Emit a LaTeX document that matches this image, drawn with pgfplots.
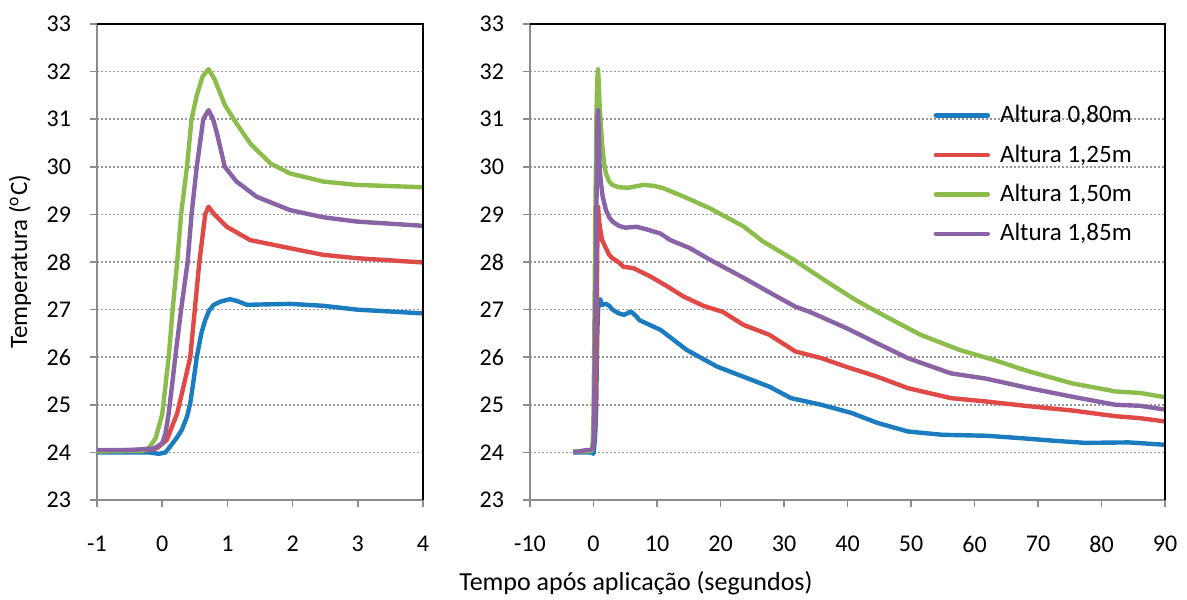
\documentclass[border=0pt]{standalone}
\usepackage{fontspec}
\setmainfont{Carlito}
\usepackage{pgfplots}
\usepackage{pgfplotstable}
\pgfplotsset{compat=1.18}

\definecolor{cblue}{HTML}{1B7DC0}
\definecolor{cred}{HTML}{DF4A47}
\definecolor{cgreen}{HTML}{8CBD4C}
\definecolor{cpurple}{HTML}{8A62A6}
\definecolor{axgray}{HTML}{8C8C8C}

% tempo (s), temperatura (C)
\pgfplotstableread{
t T
-3.2 24.00
-1 24.00
-0.2 24.00
-0.05 23.97
0.05 24.00
0.12 24.12
0.22 24.30
0.30 24.47
0.38 24.75
0.43 25.03
0.48 25.50
0.53 26.00
0.60 26.50
0.66 26.78
0.72 26.98
0.79 27.10
0.90 27.17
1.04 27.22
1.15 27.18
1.30 27.10
1.60 27.11
1.96 27.12
2.47 27.08
2.98 27.00
4.0 26.92
4.8 26.89
5.9 26.96
6.8 26.85
7.2 26.78
10.6 26.57
14.7 26.15
19.5 25.80
23.6 25.59
27.7 25.38
31.1 25.14
35.9 25.00
40.6 24.83
44.7 24.62
49.5 24.44
54.9 24.37
61.8 24.35
67.2 24.30
72.0 24.25
77.4 24.20
84.3 24.21
90.0 24.16
}\tblue

\pgfplotstableread{
t T
-3.2 24.02
-1 24.03
-0.5 24.05
-0.2 24.05
-0.08 24.09
0.07 24.26
0.23 24.82
0.35 25.52
0.43 26.00
0.50 27.00
0.57 28.00
0.66 29.00
0.71 29.16
0.80 29.00
0.99 28.74
1.35 28.46
1.96 28.29
2.47 28.15
2.98 28.08
4.0 27.99
4.7 27.90
6.3 27.87
8.9 27.70
11.6 27.49
14.1 27.28
17.3 27.08
20.4 26.95
23.6 26.68
27.7 26.47
31.8 26.12
35.9 25.98
40.0 25.79
44.7 25.59
49.5 25.35
56.3 25.14
61.8 25.07
68.6 24.97
75.4 24.88
82.2 24.76
86.0 24.72
90.0 24.65
}\tred

\pgfplotstableread{
t T
-3.2 24.02
-1 24.02
-0.5 24.03
-0.3 24.03
-0.2 24.10
-0.1 24.30
0.0 24.80
0.05 25.40
0.10 26.00
0.16 27.00
0.23 28.00
0.29 29.00
0.38 30.00
0.45 31.00
0.53 31.50
0.62 31.90
0.71 32.05
0.80 31.85
0.96 31.30
1.14 30.91
1.35 30.49
1.66 30.07
1.96 29.86
2.47 29.69
2.98 29.62
4.0 29.57
5.5 29.56
7.85 29.62
9.5 29.60
11.0 29.55
14.1 29.38
18.3 29.13
23.6 28.75
26.7 28.43
31.5 28.05
36.7 27.59
41.3 27.20
46.1 26.85
51.5 26.47
57.7 26.15
63.1 25.94
68.6 25.70
75.4 25.45
82.2 25.28
86.0 25.25
90.0 25.16
}\tgreen

\pgfplotstableread{
t T
-3.2 24.00
-1 24.05
-0.5 24.05
-0.13 24.08
0.0 24.19
0.05 24.40
0.10 24.82
0.15 25.40
0.20 26.00
0.29 27.00
0.39 28.00
0.45 29.00
0.53 30.00
0.63 31.00
0.71 31.19
0.78 31.00
0.84 30.70
0.96 30.00
1.14 29.69
1.45 29.37
1.96 29.09
2.47 28.94
2.98 28.85
4.0 28.76
5.0 28.72
6.8 28.74
8.5 28.68
10.5 28.60
12.1 28.46
15.2 28.29
18.3 28.05
23.6 27.67
28.0 27.34
31.8 27.06
34.1 26.95
40.0 26.60
44.7 26.29
49.5 25.98
56.3 25.66
61.8 25.55
68.6 25.35
75.4 25.17
82.2 25.00
86.0 24.98
90.0 24.90
}\tpurple

\pgfplotsset{
  tempaxis/.style={
    scale only axis,
    height=238pt,
    ymin=23, ymax=33,
    ytick={23,24,25,26,27,28,29,30,31,32,33},
    yticklabels={23,24,25,26,27,28,29,30,31,32,33},
    axis x line*=bottom,
    axis y line*=left,
    axis line style={draw=axgray, line width=0.8pt},
    tick align=outside,
    major tick length=3.5pt,
    tick style={draw=axgray, line width=0.8pt},
    ymajorgrids,
    major grid style={draw=gray!80, line width=0.8pt, dash pattern=on 0.8pt off 1.2pt},
    ticklabel style={font=\fontsize{12}{14}\selectfont},
    xticklabel style={yshift=-11pt},
    yticklabel style={xshift=-6pt},
    every axis plot/.append style={line width=2.2pt, line join=round},
    after end axis/.code={
      \draw[black, line width=0.8pt] (rel axis cs:0,1) -- (rel axis cs:1,1) -- (rel axis cs:1,0);
    },
  },
}

\begin{document}
\begin{tikzpicture}
\begin{axis}[tempaxis,
  at={(48.5pt,49.5pt)}, anchor=south west,
  width=163pt,
  xmin=-1, xmax=4,
  xtick={-1,0,1,2,3,4},
  xticklabels={-1,0,1,2,3,4},
]
\addplot[cblue] table[x=t, y=T] {\tblue};
\addplot[cred] table[x=t, y=T] {\tred};
\addplot[cgreen] table[x=t, y=T] {\tgreen};
\addplot[cpurple] table[x=t, y=T] {\tpurple};
\end{axis}

\begin{axis}[tempaxis,
  at={(265pt,49.5pt)}, anchor=south west,
  width=317.5pt,
  xmin=-10, xmax=90,
  xtick={-10,0,10,20,30,40,50,60,70,80,90},
  xticklabels={-10,0,10,20,30,40,50,60,70,80,90},
  legend style={at={(rel axis cs:0.635,0.838)}, anchor=north west,
    draw=none, fill=none, font=\fontsize{12.5}{14}\selectfont,
    row sep=5.5pt, inner sep=0pt,
    /tikz/every odd column/.append style={column sep=3pt}},
  legend cell align=left,
  legend image code/.code={\draw[#1, line cap=round] (0pt,0pt) -- (26pt,0pt);},
]
\addplot[cblue] table[x=t, y=T] {\tblue};
\addplot[cred] table[x=t, y=T] {\tred};
\addplot[cgreen] table[x=t, y=T] {\tgreen};
\addplot[cpurple] table[x=t, y=T] {\tpurple};
\legend{{Altura 0,80m}, {Altura 1,25m}, {Altura 1,50m}, {Altura 1,85m}}
\end{axis}

\node[rotate=90, font=\fontsize{12.5}{14}\selectfont] at (10pt,168.5pt) {Temperatura (\textsuperscript{o}C)};
\node[font=\fontsize{13}{15}\selectfont] at (318pt,8pt) {Tempo após aplicação (segundos)};

\pgfresetboundingbox
\path (0pt,0pt) rectangle (593.5pt,299.5pt);
\end{tikzpicture}
\end{document}
